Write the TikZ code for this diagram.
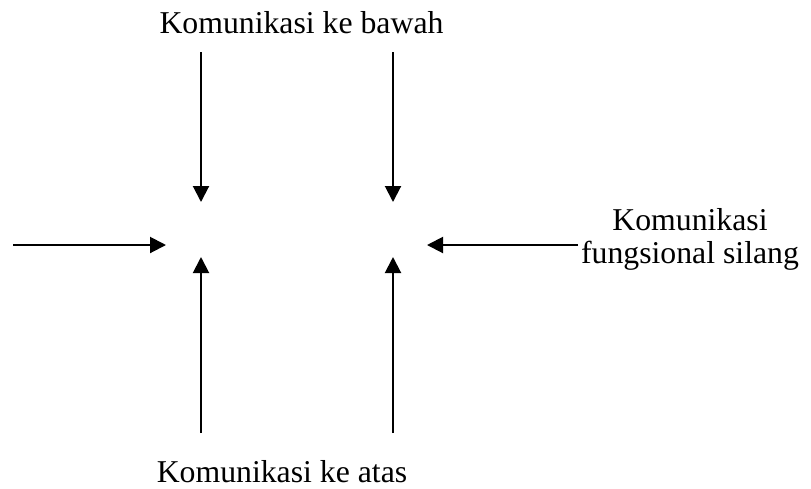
\documentclass[tikz,border=0pt]{standalone}
\usepackage{fontspec}
\setmainfont{Liberation Serif}
\usetikzlibrary{arrows.meta}
\begin{document}
\begin{tikzpicture}[x=0.4pt,y=-0.4pt,
  flow/.style={line width=0.8pt,-{Triangle[length=6.4pt,width=6.4pt]}},
  caption/.style={font=\fontsize{12.7pt}{13.2pt}\selectfont,inner sep=0pt,anchor=base,align=center}]
\useasboundingbox (0,0) rectangle (811,488);
% labels
\node[caption] (down) at (301.5,33) {Komunikasi ke bawah};
\node[caption] (up) at (282,482) {Komunikasi ke atas};
\node[caption] (cross) at (690,263) {Komunikasi\\fungsional silang};
% arrow end points
\coordinate (d1s) at (201,52);  \coordinate (d1e) at (201,202);
\coordinate (d2s) at (393,52);  \coordinate (d2e) at (393,202);
\coordinate (u1s) at (201,433); \coordinate (u1e) at (201,257);
\coordinate (u2s) at (393,433); \coordinate (u2e) at (393,257);
\coordinate (ls) at (13,245);   \coordinate (le) at (166,245);
\coordinate (rs) at (578,245);  \coordinate (re) at (427,245);
% arrows
\draw[flow] (d1s) -- (d1e);
\draw[flow] (d2s) -- (d2e);
\draw[flow] (u1s) -- (u1e);
\draw[flow] (u2s) -- (u2e);
\draw[flow] (ls) -- (le);
\draw[flow] (rs) -- (re);
\end{tikzpicture}
\end{document}
